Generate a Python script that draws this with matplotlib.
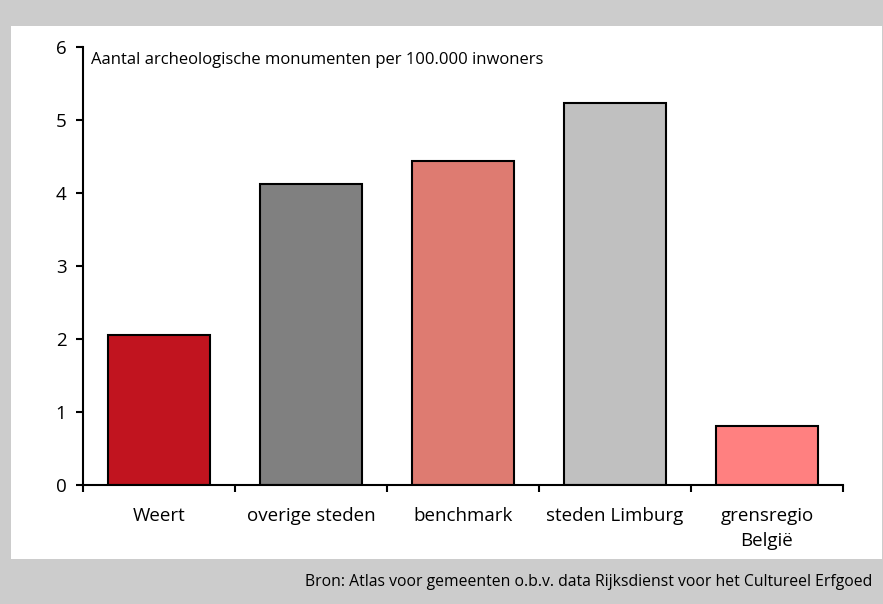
import matplotlib.pyplot as plt
from matplotlib.patches import Rectangle
import numpy as np

plt.rcParams['font.family'] = ['Open Sans', 'DejaVu Sans']

categories = ["Weert", "overige steden", "benchmark", "steden Limburg", "grensregio\nBelgië"]
values = [2.05, 4.12, 4.44, 5.23, 0.81]
colors = ["#C1141F", "#808080", "#DE7B71", "#C0C0C0", "#FF8080"]

fig = plt.figure(figsize=(8.83, 6.04), dpi=100, facecolor="#CCCCCC")
# white panel behind the chart
fig.patches.append(Rectangle((11 / 883, 1 - 559 / 604), 871 / 883, (559 - 26) / 604,
                             transform=fig.transFigure, facecolor="white", edgecolor="none", zorder=-10))

ax = fig.add_axes([83 / 883, 1 - 485 / 604, (843 - 83) / 883, (485 - 47) / 604])
ax.set_facecolor("none")
x = np.arange(len(categories))
ax.bar(x, values, width=0.67, color=colors, edgecolor="black", linewidth=1.5)

ax.set_xlim(-0.5, len(categories) - 0.5)
ax.set_ylim(0, 6)
ax.set_yticks(range(7))
ax.set_xticks(np.arange(-0.5, len(categories), 1.0))
ax.set_xticklabels([])
ax.set_xticks(x, minor=True)
ax.set_xticklabels(categories, minor=True, linespacing=1.5)
ax.tick_params(axis="x", which="minor", length=0, pad=16, labelsize=13.5)
ax.tick_params(axis="x", which="major", length=5, width=1.5, direction="out")
ax.tick_params(axis="y", length=5, width=1.5, direction="out", labelsize=13.5, pad=7)
for s in ["top", "right"]:
    ax.spines[s].set_visible(False)
for s in ["left", "bottom"]:
    ax.spines[s].set_linewidth(1.5)

ax.text(0.011, 0.97, "Aantal archeologische monumenten per 100.000 inwoners",
        transform=ax.transAxes, fontsize=12, va="center", ha="left")

fig.text(872 / 883, 1 - 582 / 604, "Bron: Atlas voor gemeenten o.b.v. data Rijksdienst voor het Cultureel Erfgoed",
         ha="right", va="center", fontsize=11.3)

fig.savefig("out.png", dpi=100, facecolor=fig.get_facecolor())
